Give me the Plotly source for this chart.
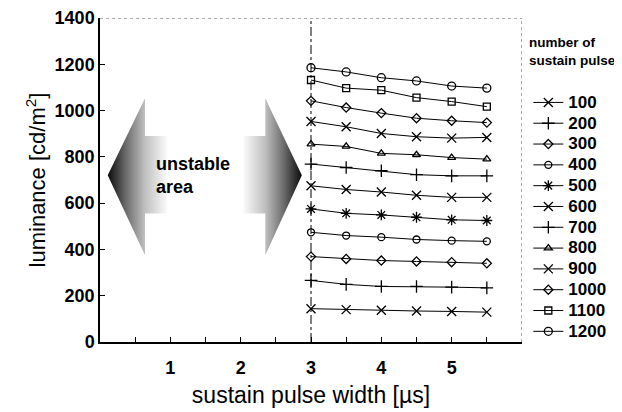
import plotly.graph_objects as go

# ---- data ----
pulse_width = [3, 3.5, 4, 4.5, 5, 5.5]
pulse_counts = ["100", "200", "300", "400", "500", "600", "700", "800", "900", "1000", "1100", "1200"]
lum_100 = [144, 140, 137, 134, 132, 129]
lum_200 = [266, 249, 240, 240, 237, 234]
lum_300 = [369, 359, 352, 348, 345, 340]
lum_400 = [474, 460, 453, 443, 438, 435]
lum_500 = [575, 556, 549, 539, 528, 525]
lum_600 = [675, 659, 648, 634, 625, 625]
lum_700 = [769, 754, 740, 723, 718, 718]
lum_800 = [855, 845, 815, 809, 797, 790]
lum_900 = [953, 930, 901, 887, 881, 884]
lum_1000 = [1042, 1013, 989, 967, 956, 948]
lum_1100 = [1132, 1097, 1088, 1056, 1039, 1017]
lum_1200 = [1185, 1167, 1142, 1128, 1106, 1097]
series = [lum_100, lum_200, lum_300, lum_400, lum_500, lum_600,
          lum_700, lum_800, lum_900, lum_1000, lum_1100, lum_1200]
x_ticks = [1, 2, 3, 4, 5]
y_ticks = [0, 200, 400, 600, 800, 1000, 1200, 1400]
stable_limit = 3  # vertical boundary [us]

# unstable-area arrow decorations (data units)
left_arrow_x = [0.11, 0.64, 0.64, 0.95, 0.95, 0.64, 0.64, 0.11]
right_arrow_x = [2.87, 2.35, 2.35, 2.04, 2.04, 2.35, 2.35, 2.87]
arrow_y = [720, 1053, 890, 890, 555, 555, 375, 720]

markers = ["x-thin", "cross-thin", "diamond-open", "circle-open", "asterisk", "x-thin",
           "cross-thin", "triangle-up-open", "x-thin", "diamond-open", "square-open", "circle-open"]
sizes = [9, 9, 7, 7, 9, 9, 9, 7, 9, 7, 7, 8]

FONT = "Liberation Sans, Arial, sans-serif"
fig = go.Figure()

# gradient arrows
fig.add_trace(go.Scatter(
    x=left_arrow_x, y=arrow_y, mode="lines", fill="toself", line=dict(width=0),
    fillgradient=dict(type="horizontal", start=0.11, stop=0.95,
                      colorscale=[[0, "rgb(10,10,10)"], [0.3, "rgb(105,105,105)"], [0.62, "rgb(190,190,190)"], [1, "rgb(250,250,250)"]]),
    showlegend=False, hoverinfo="skip"))
fig.add_trace(go.Scatter(
    x=right_arrow_x, y=arrow_y, mode="lines", fill="toself", line=dict(width=0),
    fillgradient=dict(type="horizontal", start=2.04, stop=2.87,
                      colorscale=[[0, "rgb(250,250,250)"], [0.38, "rgb(190,190,190)"], [0.7, "rgb(105,105,105)"], [1, "rgb(10,10,10)"]]),
    showlegend=False, hoverinfo="skip"))

for name, vals, m, s in zip(pulse_counts, series, markers, sizes):
    fig.add_trace(go.Scatter(
        x=pulse_width, y=vals, name="<b><span style='font-size:17px'>" + name + "</span></b>",
        mode="lines+markers",
        line=dict(color="black", width=1),
        marker=dict(symbol=m, size=s, color="black", line=dict(color="black", width=1.3)),
    ))

fig.add_shape(type="line", x0=stable_limit, x1=stable_limit, y0=0, y1=1400,
              xref="x", yref="y", line=dict(color="black", width=1, dash="dashdot"))
# top/right frame
fig.add_shape(type="line", x0=0, x1=6, y0=1400, y1=1400, xref="x", yref="y",
              line=dict(color="#555", width=1, dash="dot"))
fig.add_shape(type="line", x0=6, x1=6, y0=0, y1=1400, xref="x", yref="y",
              line=dict(color="#555", width=1, dash="dot"))

fig.add_annotation(x=0.77, y=720, xref="x", yref="y", text="unstable<br>area",
                   showarrow=False, xanchor="left", yanchor="middle", align="left",
                   font=dict(family=FONT, size=18, color="black", weight="bold"))
fig.add_annotation(x=1.012, y=0.954, xref="paper", yref="paper", text="number of<br>sustain pulse",
                   showarrow=False, xanchor="left", yanchor="top", align="left",
                   font=dict(family=FONT, size=13.5, color="black", weight="bold"))

fig.update_layout(
    width=622, height=412,
    margin=dict(l=92, r=108, t=10, b=78, autoexpand=False),
    paper_bgcolor="white", plot_bgcolor="white",
    font=dict(family=FONT, color="black"),
    legend=dict(
        x=1.015, y=0.787, xanchor="left", yanchor="top",
        font=dict(size=13.7, family=FONT),
        itemwidth=30, tracegroupgap=0, bgcolor="rgba(0,0,0,0)",
    ),
    xaxis=dict(
        range=[0, 6], tickmode="array", tickvals=x_ticks, ticktext=[str(v) for v in x_ticks],
        ticks="inside", ticklen=5, tickcolor="black", showgrid=False, zeroline=False,
        showline=True, linecolor="black", linewidth=1.5,
        minor=dict(dtick=0.5, tick0=0, ticks="inside", ticklen=5, tickcolor="black"),
        tickfont=dict(size=18, family=FONT, weight="bold"), ticklabelstandoff=9,
        title=dict(text="sustain pulse width [\u00b5s]", font=dict(size=23, family=FONT), standoff=10),
    ),
    yaxis=dict(
        range=[0, 1400], tickmode="array", tickvals=y_ticks,
        ticks="inside", ticklen=5, tickcolor="black", showgrid=False, zeroline=False,
        showline=True, linecolor="black", linewidth=1.5,
        tickfont=dict(size=18, family=FONT, weight="bold"),
        title=dict(text="luminance [cd/m<sup>2</sup>]", font=dict(size=22, family=FONT), standoff=3),
    ),
)

fig.write_html("out.html")
